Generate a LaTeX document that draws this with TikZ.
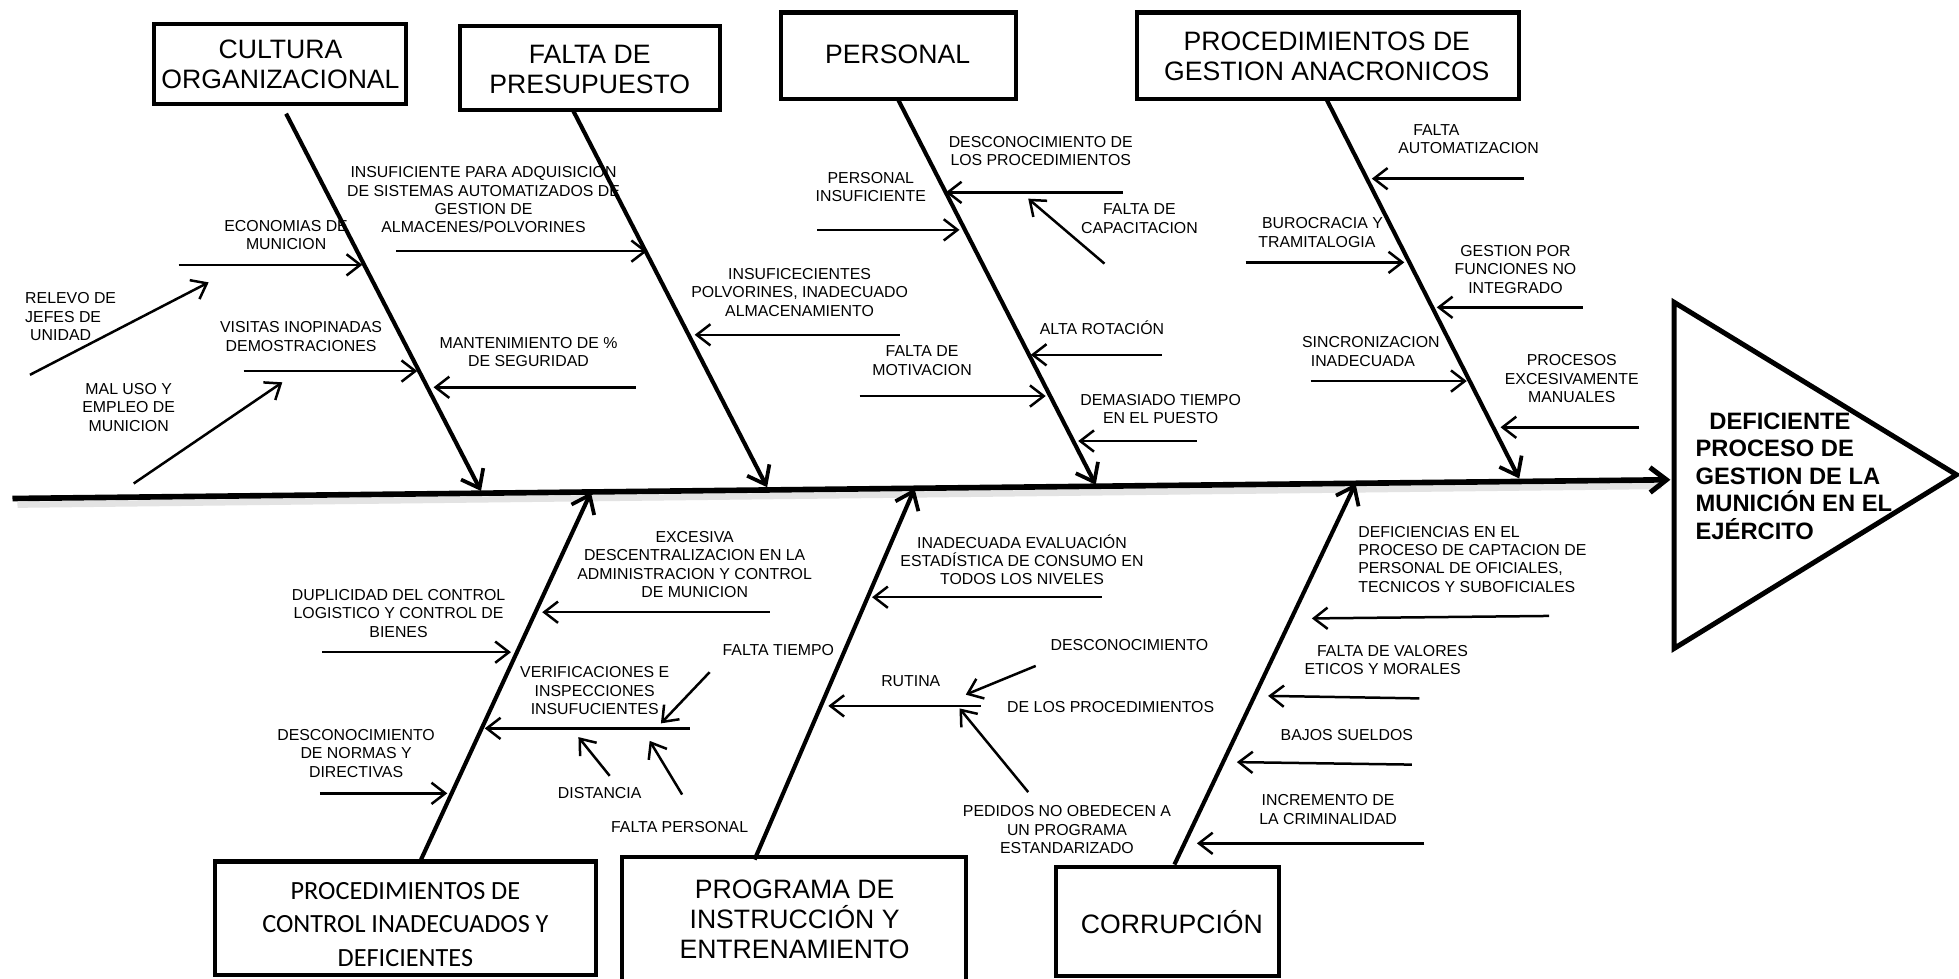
\documentclass[tikz,border=0pt]{standalone}
\usepackage{fontspec}
\setmainfont{Liberation Sans}
\newfontfamily\calfont{Carlito}
\usetikzlibrary{arrows.meta}
\newcommand\lblsz{\fontsize{12.7}{14.7}\selectfont}
\newcommand\boxsz{\fontsize{21.3}{23.8}\selectfont}
\newcommand\ctlsz{\calfont\fontsize{21}{26.5}\selectfont}
\newcommand\headsz{\bfseries\fontsize{19}{22}\selectfont}
\begin{document}
\begin{tikzpicture}[x=1pt,y=-1pt,
  frame/.style={draw, line width=3.3pt, inner sep=0pt},
  title/.style={inner sep=0pt, font=\boxsz, align=center},
  lbl/.style={inner sep=0pt, font=\lblsz, align=center},
  lbll/.style={inner sep=0pt, font=\lblsz, align=left, anchor=west},
  sub/.style={line width=2pt, -{Straight Barb[length=11pt,width=17pt,line width=2pt]}},
  bone/.style={line width=3.3pt, -{Straight Barb[length=13pt,width=20pt,line width=3pt]}},
  spine/.style={line width=4.5pt, -{Straight Barb[length=13pt,width=20pt,line width=4pt]}}]
\clip (0,0) rectangle (1568,783);
\fill[white] (0,0) rectangle (1568,783);

% ---------- spine and effect ----------
\coordinate (spL) at (10,399);
\coordinate (spR) at (1337,384);
\coordinate (shL) at (14,404);
\coordinate (shR) at (1330,389);
\draw[line width=5pt, gray!22] (shL) -- (shR);
\draw[spine] (spL) -- (spR);
\coordinate (tA) at (1340,242);
\coordinate (tB) at (1566,380);
\coordinate (tC) at (1340,519);
\draw[line width=4pt, line join=miter] (tA) -- (tB) -- (tC) -- cycle;
\node[inner sep=0pt, font=\headsz, align=left, anchor=west] (effect) at (1357,381)
  {\hspace*{11pt}DEFICIENTE\\PROCESO DE\\GESTION DE LA\\MUNICIÓN EN EL\\EJÉRCITO};

% ---------- category boxes ----------
\node[frame, minimum width=202, minimum height=64] (b1) at (224,51) {};
\node[title] (b1t) at (224.5,51.5) {CULTURA\\ORGANIZACIONAL};
\node[frame, minimum width=208, minimum height=67] (b2) at (472,54.5) {};
\node[title] (b2t) at (472,55.5) {FALTA DE\\PRESUPUESTO};
\node[frame, minimum width=188, minimum height=69] (b3) at (719,44.5) {};
\node[title] (b3t) at (718.5,43.5) {PERSONAL};
\node[frame, minimum width=306, minimum height=69] (b4) at (1063,44.5) {};
\node[title] (b4t) at (1062,45) {PROCEDIMIENTOS DE\\GESTION ANACRONICOS};
\node[frame, minimum width=305, minimum height=91] (b5) at (324.5,735) {};
\node[inner sep=0pt, font=\ctlsz, align=center] (b5t) at (324.5,740)
  {PROCEDIMIENTOS DE\\CONTROL INADECUADOS Y\\DEFICIENTES};
\node[frame, minimum width=275, minimum height=114] (b6) at (635.5,743) {};
\node[title] (b6t) at (636,736) {PROGRAMA DE\\INSTRUCCIÓN Y\\ENTRENAMIENTO};
\node[frame, minimum width=179, minimum height=87] (b7) at (934.5,737.5) {};
\node[title] (b7t) at (938,738) {CORRUPCIÓN};

% ---------- main bones ----------
\coordinate (c1s) at (229,91);   \coordinate (c1e) at (385,393);
\coordinate (c2s) at (459,89);   \coordinate (c2e) at (614,390);
\coordinate (c3s) at (719,80);   \coordinate (c3e) at (877,388);
\coordinate (c4s) at (1062,80);  \coordinate (c4e) at (1216,383);
\coordinate (c5s) at (337,688);  \coordinate (c5e) at (473,394);
\coordinate (c6s) at (604,688);  \coordinate (c6e) at (732,391);
\coordinate (c7s) at (940,692);  \coordinate (c7e) at (1085,387);
\foreach \i in {1,...,7} \draw[bone] (c\i s) -- (c\i e);

% ---------- causes: cultura organizacional ----------
\node[lbl] (l1) at (229,188) {ECONOMIAS DE\\MUNICION};
\coordinate (a1s) at (143,212); \coordinate (a1e) at (290,212);
\node[lbll] (l2) at (20,253.5) {RELEVO DE\\JEFES DE\\\hspace*{4pt}UNIDAD};
\coordinate (a2s) at (24,300); \coordinate (a2e) at (167,226);
\node[lbl] (l3) at (241,269.5) {VISITAS INOPINADAS\\DEMOSTRACIONES};
\coordinate (a3s) at (195,297); \coordinate (a3e) at (334,297);
\node[lbl] (l4) at (103,326) {MAL USO Y\\EMPLEO DE\\MUNICION};
\coordinate (a4s) at (107,387); \coordinate (a4e) at (226,306);

% ---------- causes: falta de presupuesto ----------
\node[lbl] (l5) at (423,282) {MANTENIMIENTO DE \%\\DE SEGURIDAD};
\coordinate (a5s) at (509,310); \coordinate (a5e) at (347,310);
\node[lbl] (l6) at (387,160) {INSUFICIENTE PARA ADQUISICION\\DE SISTEMAS AUTOMATIZADOS DE\\GESTION DE\\ALMACENES/POLVORINES};
\coordinate (a6s) at (317,201); \coordinate (a6e) at (518,201);
\node[lbl] (l7) at (640,234) {INSUFICECIENTES\\POLVORINES, INADECUADO\\ALMACENAMIENTO};
\coordinate (a7s) at (720,268); \coordinate (a7e) at (556,268);

% ---------- causes: personal ----------
\node[lbl] (l8) at (697,149.5) {PERSONAL\\INSUFICIENTE};
\coordinate (a8s) at (654,184); \coordinate (a8e) at (768,184);
\node[lbl] (l9) at (833,121) {DESCONOCIMIENTO DE\\LOS PROCEDIMIENTOS};
\coordinate (a9s) at (899,154); \coordinate (a9e) at (757,154);
\node[lbl] (l10) at (912,175) {FALTA DE\\CAPACITACION};
\coordinate (a10s) at (884,211); \coordinate (a10e) at (823,159);
\node[lbl] (l11) at (738,288.5) {FALTA DE\\MOTIVACION};
\coordinate (a11s) at (688,317); \coordinate (a11e) at (837,317);
\node[lbl] (l12) at (882,262) {ALTA ROTACIÓN};
\coordinate (a12s) at (930,284); \coordinate (a12e) at (825,284);
\node[lbl] (l13) at (929,327.5) {DEMASIADO TIEMPO\\EN EL PUESTO};
\coordinate (a13s) at (958,353); \coordinate (a13e) at (863,353);

% ---------- causes: procedimientos de gestion ----------
\node[lbll] (l14) at (1119,111.5) {\hspace*{12pt}FALTA\\AUTOMATIZACION};
\coordinate (a14s) at (1220,143); \coordinate (a14e) at (1098,143);
\node[lbll] (l15) at (1007,186) {\hspace*{3pt}BUROCRACIA Y\\TRAMITALOGIA};
\coordinate (a15s) at (997,210); \coordinate (a15e) at (1124,210);
\node[lbl] (l16) at (1213,215.5) {GESTION POR\\FUNCIONES NO\\INTEGRADO};
\coordinate (a16s) at (1267,246); \coordinate (a16e) at (1150,246);
\node[lbll] (l17) at (1042,281.5) {SINCRONIZACION\\\hspace*{7pt}INADECUADA};
\coordinate (a17s) at (1049,305); \coordinate (a17e) at (1174,305);
\node[lbl] (l18) at (1258,303) {PROCESOS\\EXCESIVAMENTE\\MANUALES};
\coordinate (a18s) at (1312,342); \coordinate (a18e) at (1201,342);

% ---------- causes: procedimientos de control ----------
\node[lbl] (l19) at (556,452) {EXCESIVA\\DESCENTRALIZACION EN LA\\ADMINISTRACION Y CONTROL\\DE MUNICION};
\coordinate (a19s) at (616,490); \coordinate (a19e) at (434,490);
\node[lbl] (l20) at (319,491) {DUPLICIDAD DEL CONTROL\\LOGISTICO Y CONTROL DE\\BIENES};
\coordinate (a20s) at (258,522); \coordinate (a20e) at (409,522);
\node[lbl] (l21) at (476,553) {VERIFICACIONES E\\INSPECCIONES\\INSUFUCIENTES};
\coordinate (a21s) at (552,583); \coordinate (a21e) at (388,583);
\node[lbl] (l22) at (285,603) {DESCONOCIMIENTO\\DE NORMAS Y\\DIRECTIVAS};
\coordinate (a22s) at (256,635); \coordinate (a22e) at (358,635);
\node[lbl] (l23) at (623,520) {FALTA TIEMPO};
\coordinate (a23s) at (568,538); \coordinate (a23e) at (529,579);
\node[lbl] (l24) at (480,635) {DISTANCIA};
\coordinate (a24s) at (488,621); \coordinate (a24e) at (463,590);
\node[lbl] (l25) at (544,662) {FALTA PERSONAL};
\coordinate (a25s) at (546,636); \coordinate (a25e) at (520,593);

% ---------- causes: programa de instruccion ----------
\node[lbl] (l26) at (818,448) {INADECUADA EVALUACIÓN\\ESTADÍSTICA DE CONSUMO EN\\TODOS LOS NIVELES};
\coordinate (a26s) at (882,478); \coordinate (a26e) at (698,478);
\node[lbl] (l27) at (729,545) {RUTINA};
\coordinate (a27s) at (785,565); \coordinate (a27e) at (663,565);
\node[lbl] (l28) at (904,516) {DESCONOCIMIENTO};
\node[lbl] (l28b) at (889,566) {DE LOS PROCEDIMIENTOS};
\coordinate (a28s) at (829,533); \coordinate (a28e) at (773,556);
\node[lbl] (l29) at (854,664) {PEDIDOS NO OBEDECEN A\\UN PROGRAMA\\ESTANDARIZADO};
\coordinate (a29s) at (823,634); \coordinate (a29e) at (768,567);

% ---------- causes: corrupcion ----------
\node[lbll] (l30) at (1087,447.5) {DEFICIENCIAS EN EL\\PROCESO DE CAPTACION DE\\PERSONAL DE OFICIALES,\\TECNICOS Y SUBOFICIALES};
\coordinate (a30s) at (1240,493); \coordinate (a30e) at (1050,495);
\node[lbll] (l31) at (1044,528.5) {\hspace*{10pt}FALTA DE VALORES\\ETICOS Y MORALES};
\coordinate (a31s) at (1136,559); \coordinate (a31e) at (1015,557);
\node[lbl] (l32) at (1078,588) {BAJOS SUELDOS};
\coordinate (a32s) at (1130,612); \coordinate (a32e) at (990,610);
\node[lbl] (l33) at (1063,648) {INCREMENTO DE\\LA CRIMINALIDAD};
\coordinate (a33s) at (1140,675); \coordinate (a33e) at (958,675);

\foreach \i in {1,...,33} \draw[sub] (a\i s) -- (a\i e);
\end{tikzpicture}
\end{document}
